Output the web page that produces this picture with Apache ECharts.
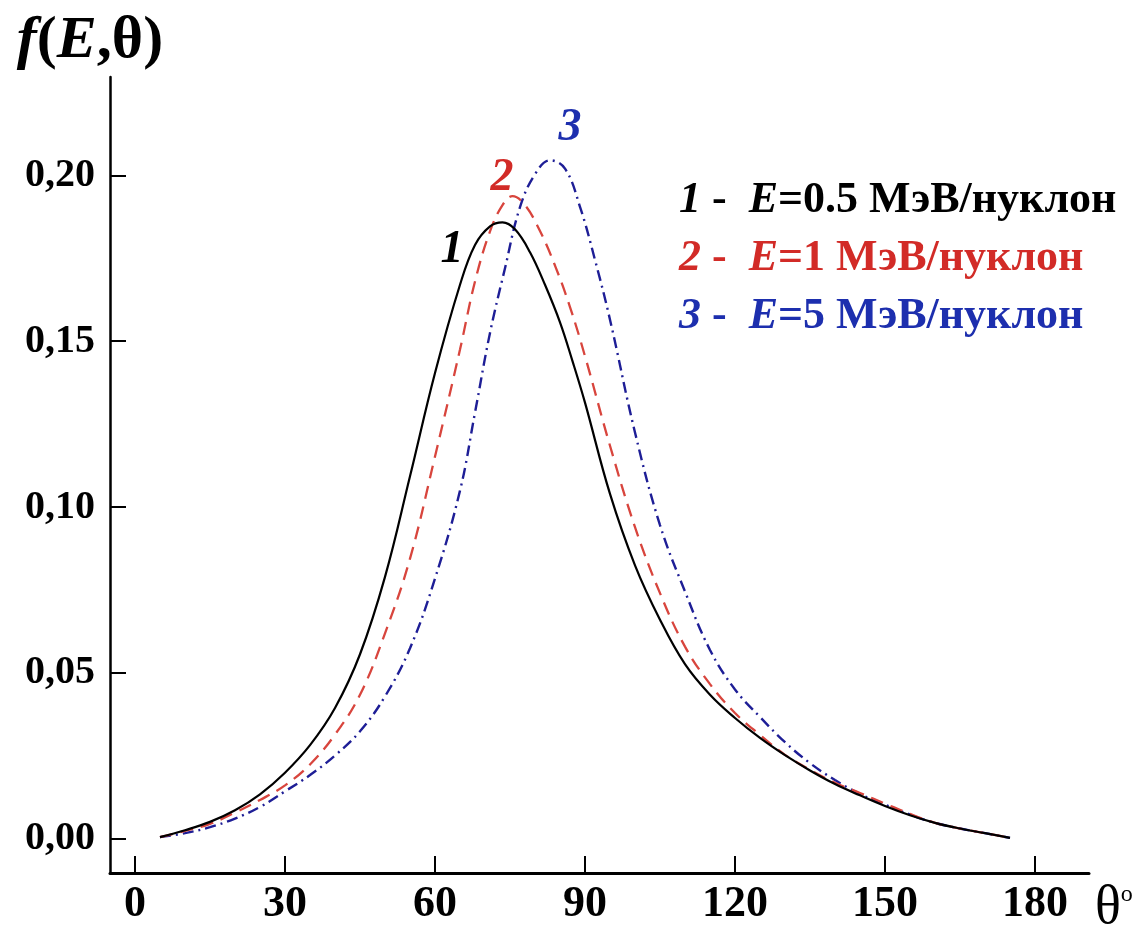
<!DOCTYPE html>
<html>
<head>
<meta charset="utf-8">
<script src="https://cdn.jsdelivr.net/npm/echarts@6/dist/echarts.min.js"></script>
<style>
  html, body { margin: 0; background: #fff; }
  #chart { width: 1137px; height: 937px; }
</style>
</head>
<body>
<div id="chart"></div>
<script>
// f(E,θ): углы (градусы) и значения для каждой энергии
// E = 0.5 МэВ/нуклон
const thetaE05 = [5, 10, 15, 20, 25, 30, 35, 40, 45, 50, 55, 60, 65, 68, 71, 73.5, 76, 79, 82, 85, 87.5, 90,
  95, 100, 105, 110, 115, 120, 125, 130, 135, 140, 145, 150, 155, 160, 165, 170, 175]
const fE05 = [0.0006, 0.0027, 0.0052, 0.0087, 0.0135, 0.0200, 0.0283, 0.0395, 0.0557, 0.0790, 0.1093, 0.1404,
  0.1670, 0.1790, 0.1846, 0.1858, 0.1837, 0.1768, 0.1670, 0.1557, 0.1440, 0.1315, 0.1040, 0.0825, 0.0661,
  0.0527, 0.0435, 0.0365, 0.0305, 0.0253, 0.0207, 0.0166, 0.0132, 0.0100, 0.0072, 0.0049, 0.0032, 0.0018, 0.0004]

// E = 1 МэВ/нуклон
const thetaE1 = [5, 10, 15, 20, 25, 30, 35, 40, 45, 50, 55, 60, 65, 68, 71, 73.5, 75.5, 78, 81, 84, 87, 90,
  95, 100, 105, 110, 115, 120, 125, 130, 135, 140, 145, 150, 155, 160, 165, 170, 175]
const fE1 = [0.0006, 0.0025, 0.0046, 0.0080, 0.0118, 0.0162, 0.0225, 0.0315, 0.0435, 0.0620, 0.0845, 0.1153,
  0.1475, 0.1680, 0.1831, 0.1910, 0.1937, 0.1910, 0.1832, 0.1728, 0.1603, 0.1455, 0.1185, 0.0940, 0.0741,
  0.0580, 0.0467, 0.0380, 0.0314, 0.0254, 0.0209, 0.0170, 0.0139, 0.0107, 0.0076, 0.0049, 0.0032, 0.0018, 0.0004]

// E = 5 МэВ/нуклон
const thetaE5 = [5, 10, 15, 20, 25, 30, 35, 40, 45, 50, 55, 60, 65, 68, 71, 74, 77, 80, 83, 86, 89, 92,
  95, 100, 105, 110, 115, 120, 125, 130, 135, 140, 145, 150, 155, 160, 165, 170, 175]
const fE5 = [0.0006, 0.0018, 0.0036, 0.0062, 0.0097, 0.0144, 0.0193, 0.0252, 0.0325, 0.0430, 0.0575, 0.0785,
  0.1050, 0.1285, 0.1525, 0.1720, 0.1904, 0.2003, 0.2045, 0.2020, 0.1905, 0.1745, 0.1565, 0.1225, 0.0946,
  0.0746, 0.0570, 0.0451, 0.0368, 0.0292, 0.0229, 0.0178, 0.0136, 0.0104, 0.0074, 0.0049, 0.0032, 0.0018, 0.0004]

const energies = ['0.5', '1', '5']
const xTicks = [0, 30, 60, 90, 120, 150, 180]
const yTicks = [0, 0.05, 0.1, 0.15, 0.2]

// где стоят номера кривых (в координатах данных)
const tagTheta = [63.4, 73.4, 87]
const tagF = [0.1774, 0.1991, 0.2142]

const serif = '"Liberation Serif", "Times New Roman", serif'
const textColors = ['#000000', '#d22b27', '#1d2fae']
const lineColors = ['#000000', '#d8453d', '#1e1e96']
const lineWidths = [2.2, 2.3, 2.4]
const dashes = ['solid', [13, 8], [11, 5, 2, 5]]

const chart = echarts.init(document.getElementById('chart'))

const legendRich = {}
textColors.forEach((c, i) => {
  legendRich['n' + i] = { color: c, fontStyle: 'italic', fontWeight: 'bold', fontSize: 44, fontFamily: serif }
  legendRich['e' + i] = { color: c, fontStyle: 'italic', fontWeight: 'bold', fontSize: 44, fontFamily: serif }
  legendRich['b' + i] = { color: c, fontWeight: 'bold', fontSize: 44, fontFamily: serif }
})

const curves = [[thetaE05, fE05], [thetaE1, fE1], [thetaE5, fE5]]

chart.setOption({
  animation: false,
  grid: { left: 110, right: 48, top: 77, bottom: 64, outerBoundsMode: 'none' },
  xAxis: {
    type: 'value',
    min: -5,
    max: 190.8,
    splitLine: { show: false },
    axisLine: { onZero: false, lineStyle: { color: '#000', width: 3 } },
    axisTick: { inside: true, length: 17, customValues: xTicks, lineStyle: { color: '#000', width: 2 } },
    axisLabel: {
      customValues: xTicks,
      margin: 10,
      color: '#000',
      fontSize: 44,
      fontWeight: 'bold',
      fontFamily: serif
    },
    name: '{t|θ}{s|o}',
    nameLocation: 'end',
    nameGap: 6,
    nameTextStyle: {
      padding: [72, 0, 0, 0],
      rich: {
        t: { fontSize: 54, fontFamily: serif, color: '#000' },
        s: { fontSize: 24, fontFamily: serif, color: '#000', padding: [0, 0, 28, 0] }
      }
    }
  },
  yAxis: {
    type: 'value',
    min: -0.0102,
    max: 0.2296,
    splitLine: { show: false },
    axisLine: { onZero: false, lineStyle: { color: '#000', width: 2.5 } },
    axisTick: { inside: true, length: 16, customValues: yTicks, lineStyle: { color: '#000', width: 2 } },
    axisLabel: {
      customValues: yTicks,
      margin: 15,
      color: '#000',
      fontSize: 40,
      fontWeight: 'bold',
      fontFamily: serif,
      formatter: v => v.toFixed(2).replace('.', ',')
    },
    name: '{i|f}{b|(}{i|E}{b|,θ)}',
    nameLocation: 'end',
    nameGap: 6,
    nameTextStyle: {
      padding: [0, 40, 0, 0],
      rich: {
        i: { fontSize: 60, fontStyle: 'italic', fontWeight: 'bold', fontFamily: serif, color: '#000' },
        b: { fontSize: 60, fontWeight: 'bold', fontFamily: serif, color: '#000' }
      }
    }
  },
  legend: {
    orient: 'vertical',
    left: 668,
    top: 170,
    itemWidth: 0,
    itemHeight: 0,
    itemGap: 6,
    selectedMode: false,
    data: ['c0', 'c1', 'c2'],
    formatter: name => {
      const i = Number(name.slice(1))
      return `{n${i}|${i + 1}}{b${i}| -  }{e${i}|E}{b${i}|=${energies[i]} МэВ/нуклон}`
    },
    textStyle: { fontSize: 44, lineHeight: 52, fontFamily: serif, rich: legendRich }
  },
  series: curves.map(([xs, ys], i) => ({
    name: 'c' + i,
    type: 'line',
    data: xs.map((t, k) => [t, ys[k]]),
    smooth: 0.4,
    showSymbol: false,
    z: 3 - i,
    lineStyle: { color: lineColors[i], width: lineWidths[i], type: dashes[i] },
    itemStyle: { color: lineColors[i] },
    markPoint: {
      symbol: 'circle',
      symbolSize: 1,
      itemStyle: { color: 'rgba(0,0,0,0)' },
      label: {
        show: true,
        position: 'inside',
        formatter: String(i + 1),
        color: textColors[i],
        fontSize: 46,
        fontStyle: 'italic',
        fontWeight: 'bold',
        fontFamily: serif
      },
      data: [{ coord: [tagTheta[i], tagF[i]] }]
    }
  }))
})
</script>
</body>
</html>
